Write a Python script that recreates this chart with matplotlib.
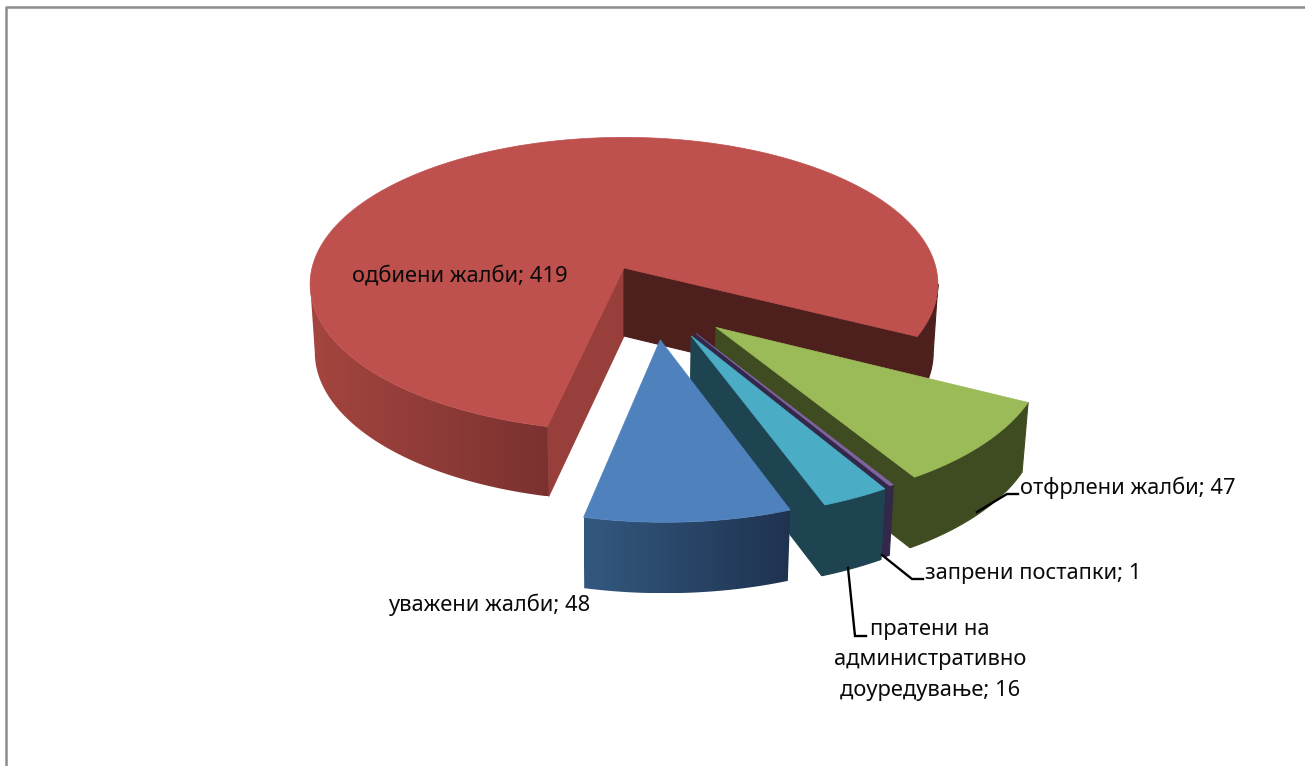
import numpy as np
import matplotlib
matplotlib.use('Agg')
import matplotlib.pyplot as plt
from matplotlib.patches import Polygon
from matplotlib.colors import to_rgb

plt.rcParams['font.family'] = ['Noto Sans', 'DejaVu Sans']

# data, in the order of the chart
labels = ['уважени жалби', 'одбиени жалби', 'отфрлени жалби', 'запрени постапки',
          'пратени на\nадминистративно\nдоуредување']
values = [48, 419, 47, 1, 16]

# look of each slice
top_colors = ['#4f81bd', '#be504d', '#9bbb59', '#8064a2', '#4bacc6']
draw_order = [1, 2, 3, 4, 0]
explode = [(0.11, 0.47), (0, 0), (0.282, 0.392), (0.22, 0.43), (0.205, 0.445)]
edge_colors = ['#1f3a55', '#983f3c', '#3f4b20', '#32284a', '#1d4450']
end_colors = ['#1f3a55', '#4d1f1d', '#3f4b20', '#32284a', '#1d4450']
# outer wall shading: colour at the left end, colour at the right end
wall_left = ['#33587f', '#a5453f', '#3f4b20', '#32284a', '#1d4450']
wall_right = ['#1f3350', '#7a3230', '#3f4b20', '#32284a', '#1d4450']
back_wall = '#4d1f1d'

# pie geometry in pixels
cx, cy = 624, 268
rx, ry = 312, 145
persp = 0.11
start_angle = 70.1
bottom_shrink = 0.985
# the rim's left and right extremes sit a little in front of the centre
tangent = np.degrees(np.arcsin(persp))


def project(u, v, low=False):
    s = 1 / (1 - persp * v)
    x = rx * u * s
    y = cy + ry * v * s
    if low:
        return cx + x * bottom_shrink, y + 68 + 2 * v
    return cx + x, y


def arc(a0, a1, off, low=False, n=120):
    t = np.radians(np.linspace(a0, a1, n))
    return project(np.cos(t) + off[0], np.sin(t) + off[1], low)


def edge_wall(ax, ang, off, color, z):
    t = np.radians(ang)
    u = np.array([off[0], np.cos(t) + off[0]])
    v = np.array([off[1], np.sin(t) + off[1]])
    xt, yt = project(u, v)
    xb, yb = project(u, v, True)
    ax.fill([xt[0], xt[1], xb[1], xb[0]], [yt[0], yt[1], yb[1], yb[0]],
            color=color, lw=0.8, zorder=z)


def outer_wall(ax, a0, a1, off, c_left, c_right, z):
    xt, yt = arc(a0, a1, off)
    xb, yb = arc(a0, a1, off, True)
    pts = np.c_[np.r_[xt, xb[::-1]], np.r_[yt, yb[::-1]]]
    if c_left == c_right:
        ax.fill(pts[:, 0], pts[:, 1], color=c_left, lw=0.8, zorder=z)
        return
    # left to right gradient clipped to the wall outline
    patch = Polygon(pts, closed=True, facecolor='none', edgecolor='none', transform=ax.transData)
    ax.add_patch(patch)
    c0, c1 = np.array(to_rgb(c_left)), np.array(to_rgb(c_right))
    grad = np.linspace(0, 1, 256)[None, :, None] * (c1 - c0) + c0
    im = ax.imshow(grad, extent=(pts[:, 0].min(), pts[:, 0].max(), pts[:, 1].max(), pts[:, 1].min()),
                   aspect='auto', zorder=z, interpolation='bilinear')
    im.set_clip_path(patch)


fig = plt.figure(figsize=(13.05, 7.66), dpi=100)
ax = fig.add_axes([0, 0, 1, 1])

# grey frame of the pasted chart
ax.plot([6, 6, 1305], [766, 7, 7], color='#8c8c8c', lw=1.8, solid_capstyle='butt')

sweep = np.array(values) / sum(values) * 360
starts = start_angle + np.concatenate([[0], np.cumsum(sweep)[:-1]])

for z, i in enumerate(draw_order):
    a0, a1 = starts[i], starts[i] + sweep[i]
    off = explode[i]
    base = z * 10 + 2

    # side walls along the two radii, only those facing the viewer
    if np.sin(np.radians(a0 - 90)) > 0.01:
        edge_wall(ax, a0, off, edge_colors[i], base)
    if np.sin(np.radians(a1 + 90)) > 0.01:
        edge_wall(ax, a1, off, end_colors[i], base)

    # outer wall: the part of the rim between the two extremes
    for k in (0, 1):
        lo, hi = max(a0, 360 * k + tangent), min(a1, 360 * k + 180 - tangent)
        if hi > lo:
            if k == 1 and i == 1:
                outer_wall(ax, lo, hi, off, back_wall, back_wall, base + 1)
            else:
                outer_wall(ax, lo, hi, off, wall_left[i], wall_right[i], base + 1)

    xs, ys = arc(a0, a1, off, n=240)
    xa, ya = project(off[0], off[1])
    ax.fill(np.r_[xa, xs], np.r_[ya, ys], color=top_colors[i], lw=0.5, zorder=base + 2)

# leader lines
lk = dict(color='black', lw=1.7, zorder=80, solid_joinstyle='miter')
ax.plot([977, 1007, 1018], [512, 494, 494], **lk)
ax.plot([882, 912, 923], [555, 579, 579], **lk)
ax.plot([848, 855, 866], [568, 636, 636], **lk)

# data labels
tk = dict(fontsize=15.8, color='#0a0a0a', ha='center', va='center', zorder=90)
ax.text(460, 276, f'{labels[1]}; {values[1]}', **tk)
ax.text(489, 605, f'{labels[0]}; {values[0]}', **tk)
ax.text(1128, 488, f'{labels[2]}; {values[2]}', **tk)
ax.text(1033, 574, f'{labels[3]}; {values[3]}', **tk)
ax.text(930, 660, f'{labels[4]}; {values[4]}', linespacing=1.6, **tk)

ax.set_xlim(0, 1305)
ax.set_ylim(766, 0)
ax.axis('off')

fig.savefig('out.png', dpi=100)
